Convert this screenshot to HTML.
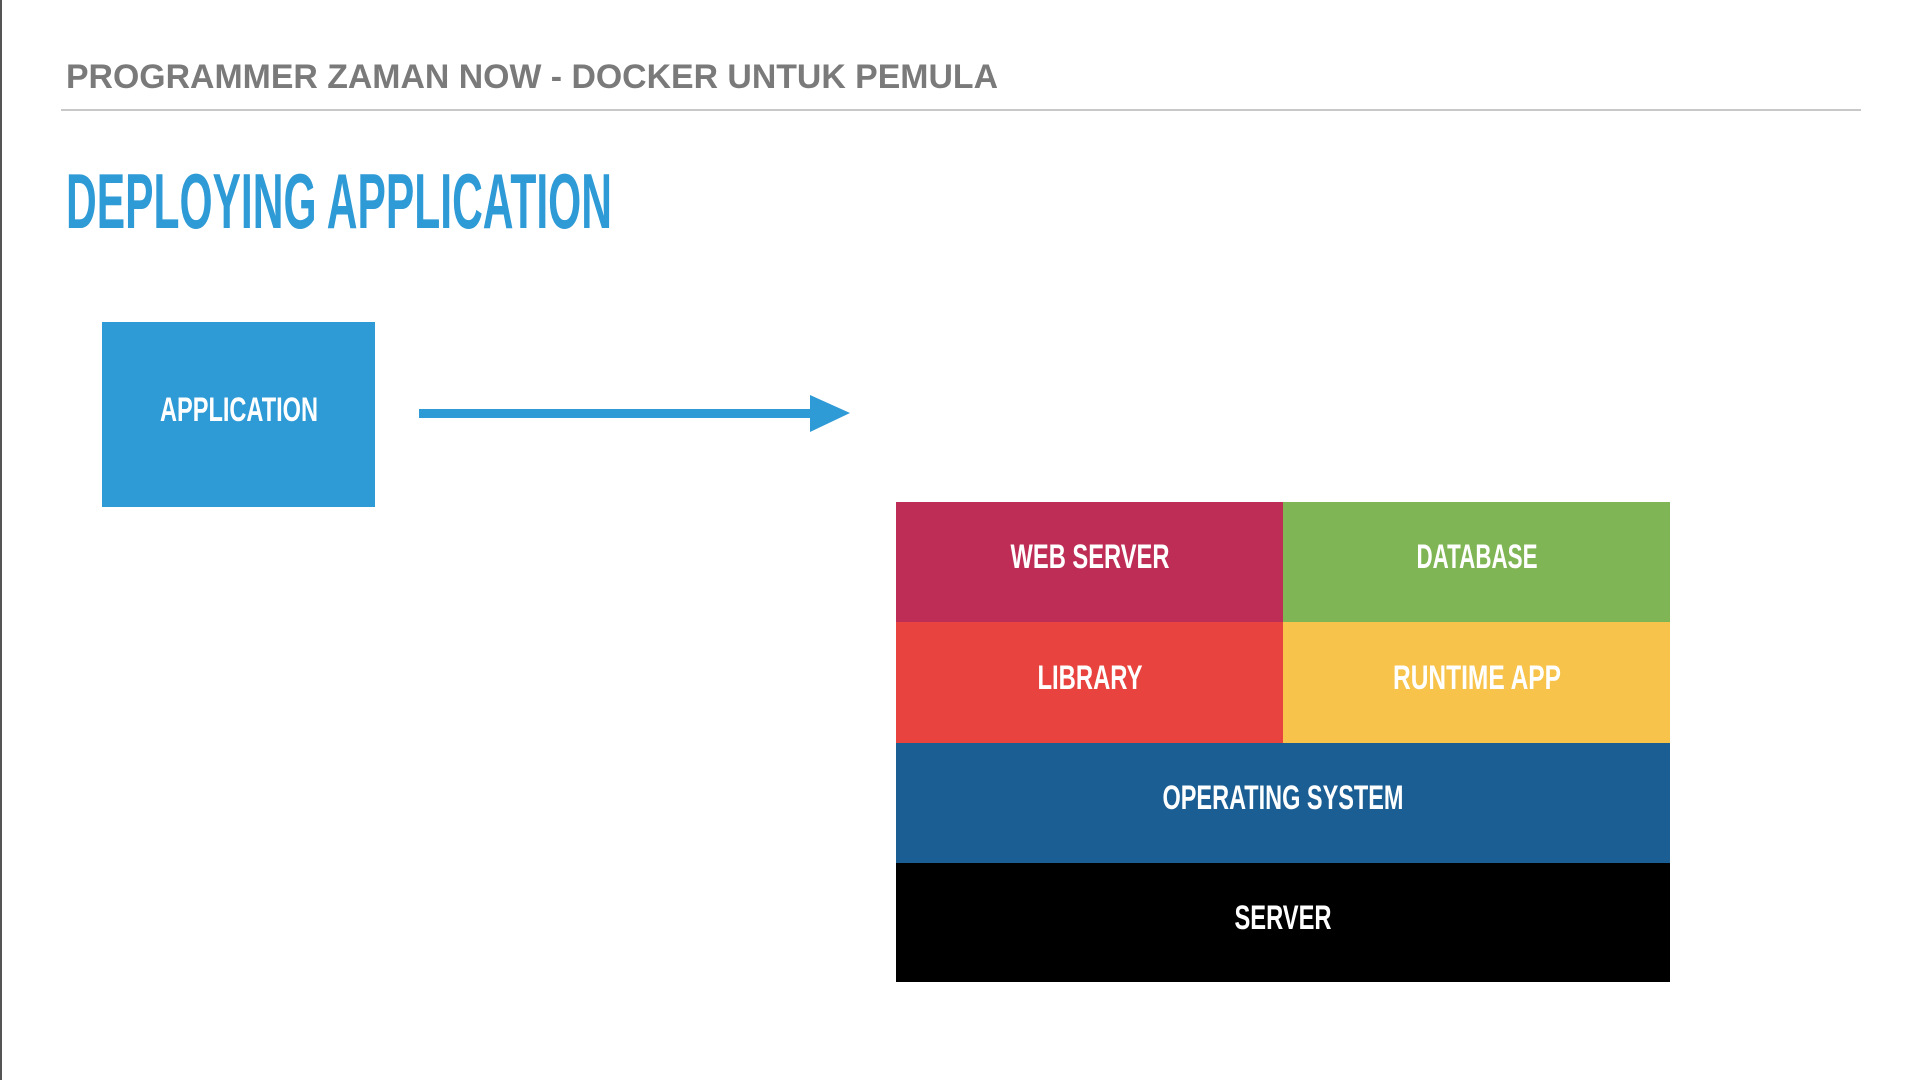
<!DOCTYPE html>
<html><head><meta charset="utf-8"><style>
html,body{margin:0;padding:0;background:#fff;width:1920px;height:1080px;overflow:hidden}
svg{display:block}
</style></head><body>
<svg width="1920" height="1080" viewBox="0 0 1920 1080" xmlns="http://www.w3.org/2000/svg" font-family="Liberation Sans, sans-serif">
<rect x="0" y="0" width="2" height="1080" fill="#555"/>
<text x="66" y="88" font-size="34" fill="#7a7a7a" font-weight="bold" textLength="932" lengthAdjust="spacingAndGlyphs">PROGRAMMER ZAMAN NOW - DOCKER UNTUK PEMULA</text>
<rect x="61" y="109" width="1800" height="2" fill="#c8c8c8"/>
<text x="66" y="228" font-size="78" fill="#2E9AD6" font-weight="bold" textLength="546" lengthAdjust="spacingAndGlyphs">DEPLOYING APPLICATION</text>
<rect x="102" y="322" width="273" height="185" fill="#2E9AD6"/>
<text x="239" y="421" font-size="34" fill="#fff" font-weight="bold" text-anchor="middle" textLength="158" lengthAdjust="spacingAndGlyphs">APPLICATION</text>
<rect x="419" y="409" width="400" height="9" fill="#2E9AD6"/>
<polygon points="810,395 850,413 810,432" fill="#2E9AD6"/>
<rect x="896" y="502" width="387" height="120" fill="#BE2D55"/>
<rect x="1283" y="502" width="387" height="120" fill="#7FB554"/>
<rect x="896" y="622" width="387" height="121" fill="#E8433E"/>
<rect x="1283" y="622" width="387" height="121" fill="#F7C34A"/>
<rect x="896" y="743" width="774" height="120" fill="#1A5E93"/>
<rect x="896" y="863" width="774" height="119" fill="#000"/>
<g font-size="34" fill="#fff" font-weight="bold" text-anchor="middle">
<text x="1090" y="568" textLength="159" lengthAdjust="spacingAndGlyphs">WEB SERVER</text>
<text x="1477" y="568" textLength="121" lengthAdjust="spacingAndGlyphs">DATABASE</text>
<text x="1090" y="689" textLength="105" lengthAdjust="spacingAndGlyphs">LIBRARY</text>
<text x="1477" y="689" textLength="168" lengthAdjust="spacingAndGlyphs">RUNTIME APP</text>
<text x="1283" y="809" textLength="241" lengthAdjust="spacingAndGlyphs">OPERATING SYSTEM</text>
<text x="1283" y="929" textLength="97" lengthAdjust="spacingAndGlyphs">SERVER</text>
</g>
</svg>
</body></html>
